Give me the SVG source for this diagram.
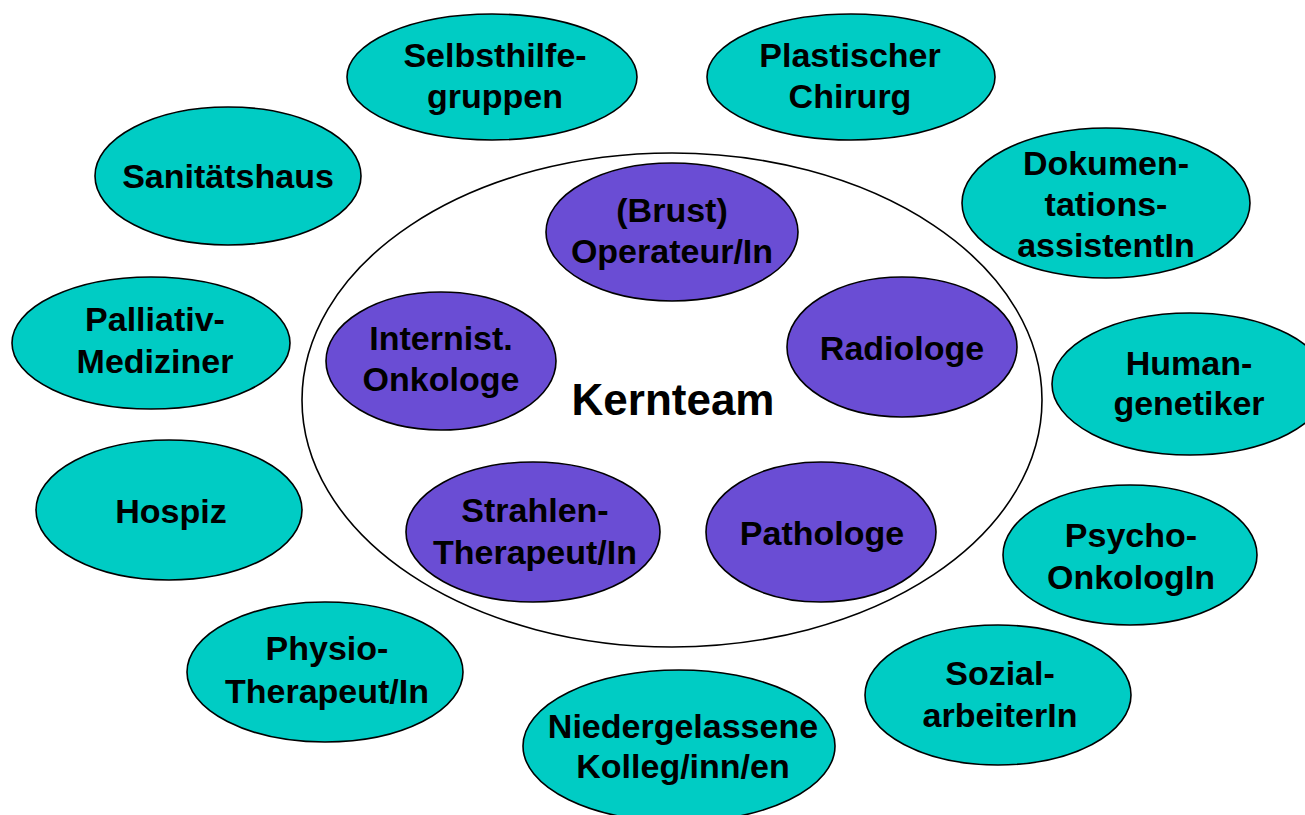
<svg xmlns="http://www.w3.org/2000/svg" width="1305" height="815" viewBox="0 0 1305 815">
<style>
.outer{fill:#00CCC4;stroke:#000;stroke-width:1.6}
.core{fill:#6A4DD4;stroke:#000;stroke-width:1.6}
.frame{fill:none;stroke:#000;stroke-width:1.6}
text{font-family:"Liberation Sans",Arial,sans-serif;font-weight:bold;font-size:34px;fill:#000;text-anchor:middle}
.title{font-size:44px}
</style>
<rect width="1305" height="815" fill="#fff"/>
<g id="kernteam">
<ellipse class="frame" cx="672" cy="400" rx="370" ry="247"/>
<text class="title" x="673" y="415">Kernteam</text>
</g>
<g id="selbsthilfegruppen"><ellipse class="outer" cx="492" cy="77" rx="145" ry="63"/><text x="495" y="67">Selbsthilfe-</text><text x="495" y="108">gruppen</text></g>
<g id="plastischer-chirurg"><ellipse class="outer" cx="851" cy="77" rx="144" ry="63"/><text x="850" y="67">Plastischer</text><text x="850" y="108">Chirurg</text></g>
<g id="sanitaetshaus"><ellipse class="outer" cx="228" cy="176" rx="133" ry="69"/><text x="228" y="188">Sanitätshaus</text></g>
<g id="dokumentationsassistentin"><ellipse class="outer" cx="1106" cy="203" rx="144" ry="75"/><text x="1106" y="175">Dokumen-</text><text x="1106" y="216">tations-</text><text x="1106" y="257">assistentIn</text></g>
<g id="palliativmediziner"><ellipse class="outer" cx="151" cy="343" rx="139" ry="66"/><text x="155" y="331">Palliativ-</text><text x="155" y="373">Mediziner</text></g>
<g id="humangenetiker"><ellipse class="outer" cx="1190" cy="384" rx="138" ry="71"/><text x="1189" y="375">Human-</text><text x="1189" y="415">genetiker</text></g>
<g id="hospiz"><ellipse class="outer" cx="169" cy="510" rx="133" ry="70"/><text x="171" y="523">Hospiz</text></g>
<g id="physiotherapeut"><ellipse class="outer" cx="325" cy="672" rx="138" ry="70"/><text x="327" y="660">Physio-</text><text x="327" y="703">Therapeut/In</text></g>
<g id="niedergelassene"><ellipse class="outer" cx="679" cy="746" rx="156" ry="76"/><text x="683" y="738">Niedergelassene</text><text x="683" y="778">Kolleg/inn/en</text></g>
<g id="psychoonkologin"><ellipse class="outer" cx="1130" cy="555" rx="127" ry="70"/><text x="1131" y="547">Psycho-</text><text x="1131" y="589">OnkologIn</text></g>
<g id="sozialarbeiterin"><ellipse class="outer" cx="998" cy="695" rx="133" ry="70"/><text x="1000" y="685">Sozial-</text><text x="1000" y="727">arbeiterIn</text></g>
<g id="operateur"><ellipse class="core" cx="672" cy="232" rx="126" ry="69"/><text x="672" y="222">(Brust)</text><text x="672" y="263">Operateur/In</text></g>
<g id="radiologe"><ellipse class="core" cx="902" cy="347" rx="115" ry="70"/><text x="902" y="360">Radiologe</text></g>
<g id="internist-onkologe"><ellipse class="core" cx="441" cy="361" rx="115" ry="69"/><text x="441" y="350">Internist.</text><text x="441" y="391">Onkologe</text></g>
<g id="strahlentherapeut"><ellipse class="core" cx="533" cy="532" rx="127" ry="70"/><text x="535" y="522">Strahlen-</text><text x="535" y="564">Therapeut/In</text></g>
<g id="pathologe"><ellipse class="core" cx="821" cy="532" rx="115" ry="70"/><text x="822" y="545">Pathologe</text></g>
<g id="connectors"/>
</svg>
